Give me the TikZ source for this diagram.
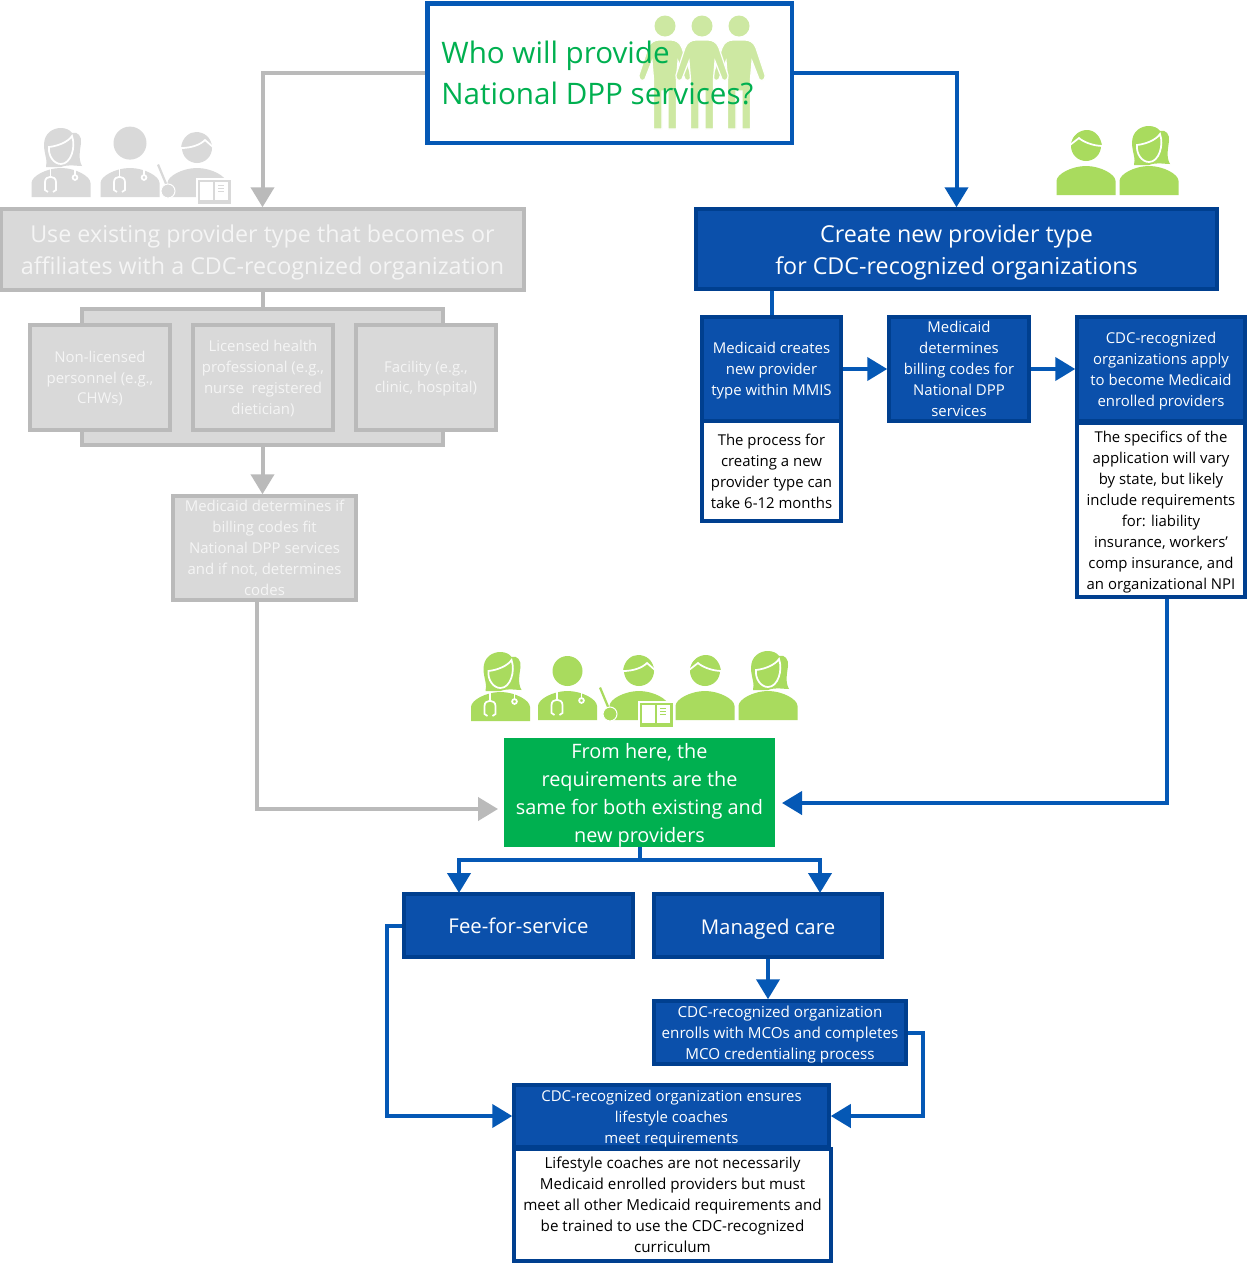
\documentclass[tikz,border=0pt]{standalone}
\usepackage{fontspec}
\setmainfont{Open Sans}
\usetikzlibrary{arrows.meta}
\definecolor{arrowblue}{HTML}{0558B5}
\definecolor{boxblue}{HTML}{0B50AB}
\definecolor{edgeblue}{HTML}{003F8F}
\definecolor{mutefill}{HTML}{D9D9D9}
\definecolor{muteedge}{HTML}{BABABA}
\definecolor{mutetext}{HTML}{F5F5F5}
\definecolor{titlegreen}{HTML}{00B050}
\definecolor{icongreen}{HTML}{A9DB5E}
\definecolor{crowdgreen}{HTML}{CDE8A2}
% rule in the first line, pushes a text block down
\newcommand{\pushdown}[1]{\rule{0pt}{#1pt}}
\tikzset{
    boxsize/.style 2 args={minimum width=(#1+1.5)*0.02cm, minimum height=(#2+1.5)*0.02cm},
    basebox/.style={align=center, inner sep=0pt, line width=0.08cm},
    smalltext/.style={font=\fontsize{8.5}{11.9}\selectfont},
    widetext/.style={font=\fontsize{8.65}{11.9}\selectfont},
    largetext/.style={font=\fontsize{13.25}{18.3}\selectfont},
    midtext/.style={font=\fontsize{11.3}{15.9}\selectfont},
    tabtext/.style={font=\fontsize{11.6}{15.9}\selectfont},
    bluebox/.style={basebox, smalltext, draw=edgeblue, fill=boxblue, text=white},
    notebox/.style={basebox, smalltext, draw=edgeblue, fill=white, text=black},
    mutebox/.style={basebox, smalltext, draw=muteedge, fill=mutefill, text=mutetext},
    bluelink/.style={draw=arrowblue, line width=0.08cm},
    graylink/.style={draw=muteedge, line width=0.08cm},
    bluearrow/.style={bluelink, -{Triangle[length=0.4cm, width=0.46cm]}},
    grayarrow/.style={graylink, -{Triangle[length=0.4cm, width=0.46cm]}},
    iconline/.style={draw=white, line width=1pt},
    pics/bust/.style={code={
        \fill (-29.5,0) -- (-29.5,-14) .. controls (-29.5,-21) and (-14,-29) .. (0,-29)
            .. controls (14,-29) and (29.5,-21) .. (29.5,-14) -- (29.5,0) -- cycle;
    }},
    pics/womanhead/.style={code={
        \fill (-15,-30) .. controls (-13,-36) and (-17,-44) .. (-17,-52)
            .. controls (-17,-64) and (-8,-69) .. (0,-69)
            .. controls (5,-69) and (9,-67) .. (11,-64)
            .. controls (17,-66) and (21,-60) .. (20,-54)
            .. controls (19,-46) and (17,-38) .. (21,-31)
            .. controls (14,-31) and (8,-33) .. (0,-30) .. controls (-5,-30) and (-11,-30) .. (-15,-30) -- cycle;
        \draw[iconline] (-12,-50) .. controls (-3,-51) and (7,-55) .. (11,-61)
            .. controls (15,-50) and (10,-33) .. (0,-33)
            .. controls (-7,-33) and (-13,-41) .. (-12,-50) -- cycle;
    }},
    pics/manhead/.style={code={
        \fill (0,-49) circle [radius=15];
        \fill (-15,-50) .. controls (-14,-60) and (-6,-65) .. (1,-65)
            .. controls (9,-65) and (15,-58) .. (16,-49) -- cycle;
        \draw[iconline] (-16,-50) -- (-7,-57) .. controls (-4,-54) and (6,-49) .. (17,-49);
    }},
    pics/scope/.style={code={
        \draw[iconline] (-13,-5) -- (-16,-7) -- (-16,-15) .. controls (-16,-22) and (-5,-22) .. (-5,-15) -- (-5,-7) -- (-8,-5);
        \draw[iconline] (-10.5,-20) -- (-10.5,-29);
        \draw[iconline] (14,-22) -- (14,-29);
        \draw[iconline] (14,-19.5) circle [radius=2.4];
    }},
    pics/womandoc/.style={code={\pic {bust}; \pic {womanhead}; \pic {scope};}},
    pics/mandoc/.style={code={
        \pic {bust}; \fill (0,-49) circle [radius=15]; \pic {scope};
    }},
    pics/teacher/.style={code={
        \pic {bust};
        \fill (0,-49) circle [radius=15];
        \fill (-16,-49) .. controls (-15,-60) and (-7,-65) .. (-1,-65)
            .. controls (7,-65) and (14,-60) .. (15,-50) -- cycle;
        \draw[iconline] (-16,-49) .. controls (-6,-49) and (3,-52) .. (8,-57) -- (16,-50);
        % pointer
        \fill (-40,-32) -- (-38,-33) -- (-28,-9) -- (-30,-8) -- cycle;
        \path[draw=white, line width=0.6pt, fill] (-29,-6) circle [radius=7];
        % book
        \path[draw=white, line width=0.6pt, fill] (0,-18) rectangle (35,8);
        \fill[white] (3,-15) rectangle (16,3);
        \fill[white] (18,-15) rectangle (31,3);
        \foreach \y in {-12,-9,-6} {
            \fill (21,\y) rectangle (27,\y+1.2);
        }
    }},
    pics/crowdman/.style={code={
        \path[draw=white, line width=0.7pt, fill] (-11.5,0) -- (-11.5,-50) -- (-13,-68) -- (-20,-50)
            .. controls (-22,-47) and (-27,-49) .. (-26,-54) -- (-17,-81)
            .. controls (-15,-87) and (-10,-89) .. (-6,-89) -- (6,-89)
            .. controls (10,-89) and (15,-87) .. (17,-81) -- (26,-54)
            .. controls (27,-49) and (22,-47) .. (20,-50) -- (13,-68) -- (11.5,-50) -- (11.5,0)
            -- (3,0) -- (3,-38) -- (-3,-38) -- (-3,0) -- cycle;
        \fill (0,-103) circle [radius=10.5];
    }}
}
\begin{document}
\begin{tikzpicture}[x=0.02cm, y=-0.02cm]
    \path[fill=white, use as bounding box] (0,0) rectangle (1250,1268);

    % Question at the top
    \node[basebox, boxsize={363}{138}, draw=arrowblue, fill=white, line width=0.09cm] (question) at (609.5,73) {};
    \begin{scope}[fill=crowdgreen]
        \pic at (665,129) {crowdman};
        \pic at (739,129) {crowdman};
        \pic at (702,129) {crowdman};
    \end{scope}
    \node[anchor=west, align=left, text=titlegreen, font=\fontsize{16.85}{23.8}\selectfont, inner sep=0pt] (questiontext) at (441,73) {Who will provide\\National DPP services?};

    % Existing provider side
    \begin{scope}[fill=mutefill]
        \pic at (61,197) {womandoc};
        \pic[scale=1.1] at (130,197) {mandoc};
        \pic at (197,197) {teacher};
    \end{scope}
    \node[mutebox, largetext, boxsize={521}{79}] (existing) at (262.5,249.5) {\pushdown{13.6}Use existing provider type that becomes or\\affiliates with a CDC-recognized organization};
    \node[mutebox, boxsize={359}{134}] (grouping) at (262.5,377) {};
    \node[mutebox, boxsize={138}{103}] (nonlicensed) at (100,377.5) {\pushdown{7.7}Non-licensed\\personnel (e.g.,\\CHWs)};
    \node[mutebox, boxsize={138}{103}] (licensed) at (263,377.5) {\pushdown{7.7}Licensed health\\professional (e.g.,\\nurse\ \ registered\\dietician)};
    \node[mutebox, boxsize={138}{103}] (facility) at (426,377.5) {\pushdown{7.7}Facility (e.g.,\\clinic, hospital)};
    \node[mutebox, boxsize={181}{102}] (billingcheck) at (264.5,548) {Medicaid determines if\\billing codes fit\\National DPP services\\and if not, determines\\codes};

    % New provider side
    \begin{scope}[fill=icongreen]
        \pic at (1086,195) {bust};
        \pic at (1086,195) {manhead};
        \pic at (1149,195) {bust};
        \pic at (1149,195) {womanhead};
    \end{scope}
    \node[bluebox, largetext, boxsize={519}{78}] (newtype) at (956.5,249) {\pushdown{13.6}Create new provider type\\for CDC-recognized organizations};
    \node[bluebox, boxsize={137}{102}] (mmis) at (771.5,369) {\pushdown{8.2}Medicaid creates\\new provider\\type within MMIS};
    \node[notebox, boxsize={137}{98}] (mmisnote) at (771.5,471) {The process for\\creating a new\\provider type can\\take 6-12 months};
    \node[bluebox, boxsize={138}{102}] (billingcodes) at (959,369) {Medicaid\\determines\\billing codes for\\National DPP\\services};
    \node[bluebox, boxsize={166}{102}] (enrolled) at (1161,369) {\pushdown{8.9}CDC-recognized\\organizations apply\\to become Medicaid\\enrolled providers};
    \node[notebox, boxsize={166}{172}] (enrollednote) at (1161,510) {\pushdown{8.9}The specifics of the\\application will vary\\by state, but likely\\include requirements\\for: liability\\insurance, workers'\\comp insurance, and\\an organizational NPI};

    % Shared path
    \begin{scope}[fill=icongreen]
        \pic at (500.5,721) {womandoc};
        \pic at (567.5,720) {mandoc};
        \pic at (639,720) {teacher};
        \pic at (705,720) {bust};
        \pic at (705,720) {manhead};
        \pic at (768,720) {bust};
        \pic at (768,720) {womanhead};
    \end{scope}
    \node[basebox, midtext, boxsize={269.5}{107.5}, fill=titlegreen, text=white, line width=0pt] (shared) at (639.5,792.5) {\pushdown{12}From here, the\\requirements are the\\same for both existing and\\new providers};
    \node[bluebox, tabtext, boxsize={227}{61}] (feeservice) at (518.5,925.5) {Fee-for-service};
    \node[bluebox, tabtext, boxsize={226}{61}] (managedcare) at (768,925.5) {\pushdown{13}Managed care};
    \node[bluebox, widetext, boxsize={250}{61}] (mcoenroll) at (780,1032.5) {\pushdown{8.9}CDC-recognized organization\\enrolls with MCOs and completes\\MCO credentialing process};
    \node[bluebox, boxsize={313}{60}] (coaches) at (671.5,1116) {\pushdown{9}CDC-recognized organization ensures\\lifestyle coaches\\meet requirements};
    \node[notebox, widetext, boxsize={315}{110}] (coachesnote) at (672.5,1205) {Lifestyle coaches are not necessarily\\Medicaid enrolled providers but must\\meet all other Medicaid requirements and\\be trained to use the CDC-recognized\\curriculum};

    % Free ends of the connectors
    \coordinate (graytip) at (498,809);
    \coordinate (bluetip) at (782,803);
    \coordinate (split) at (640,860);
    \coordinate (feetip) at (459,893);
    \coordinate (managedtip) at (820,893);

    % Connectors
    \draw[grayarrow] (question.west) -| (existing.north);
    \draw[bluearrow] (question.east) -| (newtype.north);
    \draw[graylink] (existing.south) -- (grouping.north);
    \draw[grayarrow] (grouping.south) -- (grouping.south |- billingcheck.north);
    \draw[grayarrow] ([xshift=-0.15cm]billingcheck.south) |- (graytip);
    \draw[bluelink] (mmis.north) -- (mmis.north |- newtype.south);
    \draw[bluearrow] (mmis.east) -- (billingcodes.west);
    \draw[bluearrow] (billingcodes.east) -- (enrolled.west);
    \draw[bluearrow] ([xshift=0.12cm]enrollednote.south) |- (bluetip);
    \draw[bluelink] (shared.south) -- (shared.south |- split);
    \draw[bluearrow] (split) -| (feetip);
    \draw[bluearrow] (split) -| (managedtip);
    \draw[bluearrow] (managedcare.south) -- (managedcare.south |- mcoenroll.north);
    \draw[bluearrow] (feeservice.west) -- ++(-15,0) |- (coaches.west);
    \draw[bluearrow] (mcoenroll.east) -- ++(15,0) |- (coaches.east);
\end{tikzpicture}
\end{document}
